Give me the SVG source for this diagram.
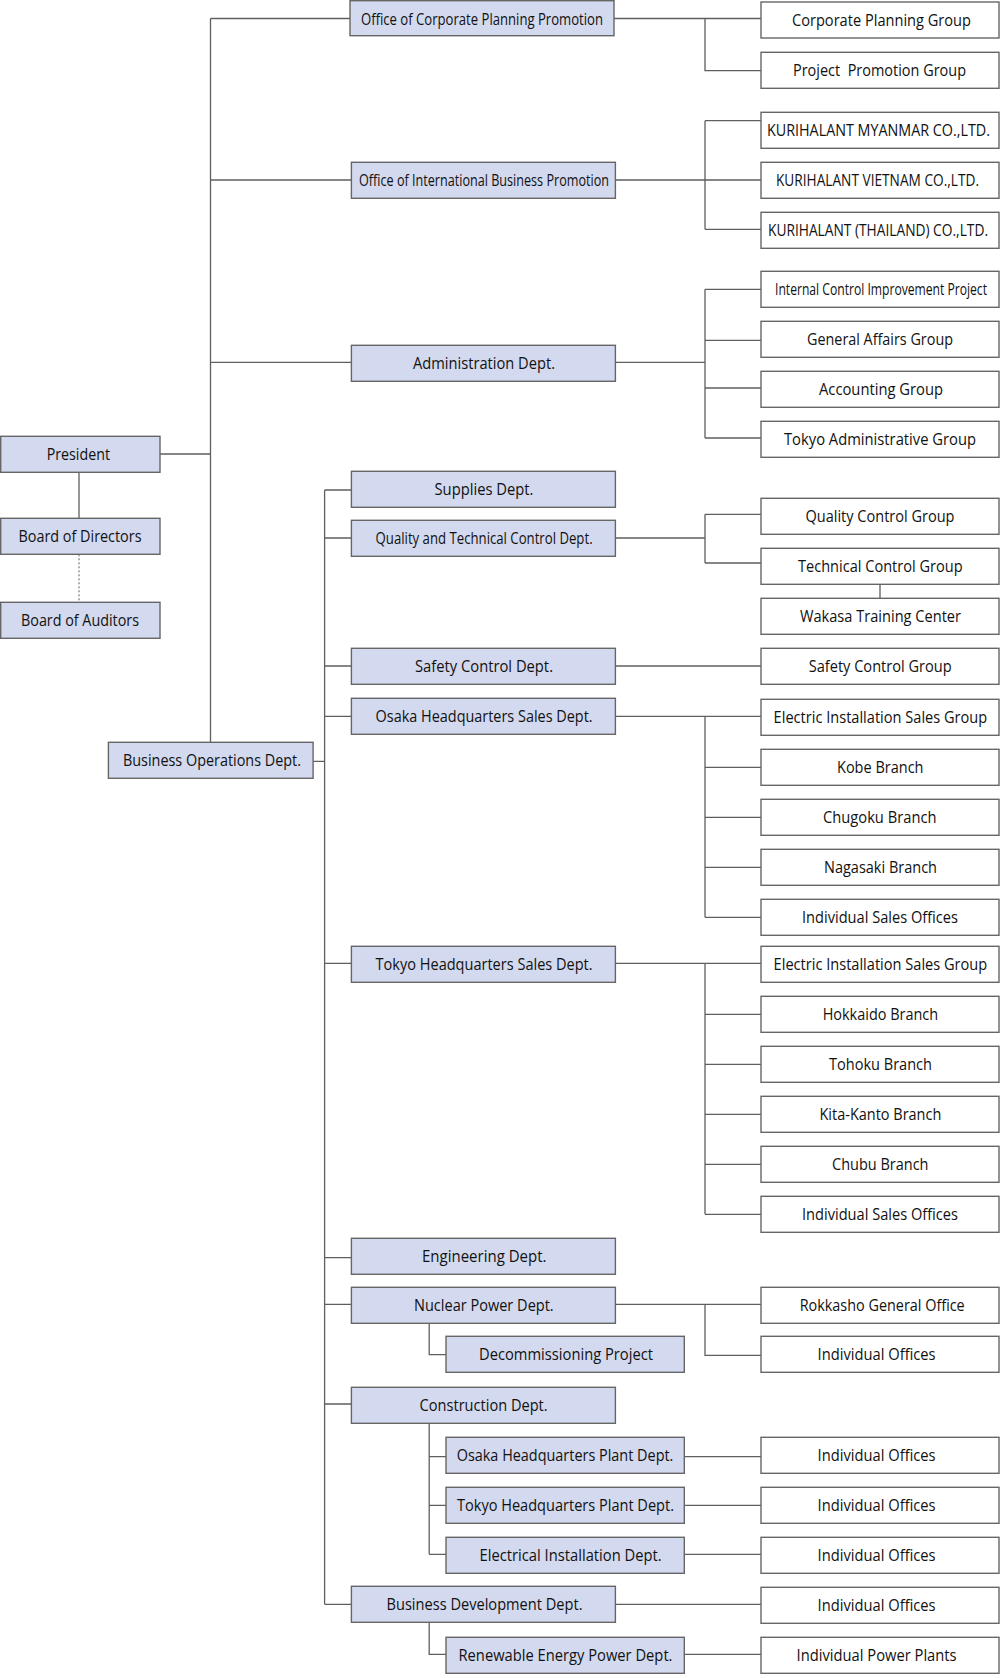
<svg xmlns="http://www.w3.org/2000/svg" width="1000" height="1678" viewBox="0 0 1000 1678">
<style>
.d{fill:#d3d9ee;stroke:#666;stroke-width:1.4}
.c{fill:#fff;stroke:#666;stroke-width:1.4}
.t{font-family:"Open Sans","Noto Sans","DejaVu Sans",sans-serif;font-size:15.5px;fill:#111;white-space:pre}
.ln{fill:none;stroke:#5f5f5f;stroke-width:1.3}
.dash{fill:none;stroke:#5f5f5f;stroke-width:1;stroke-dasharray:2 2}
</style>
<rect width="1000" height="1678" fill="#fff"/>
<g id="connectors">
<path class="ln" d="M210.5 18.5V742.3M210.5 18.5H350M210.5 180H351.4M210.5 362.3H351.4M160 454H210.5"/>
<path class="ln" d="M79 472.3V518.3"/>
<path class="dash" d="M79 554.3V602.3"/>
<path class="ln" d="M614 18.5H761M705 18.5V70.7H761"/>
<path class="ln" d="M615.4 180H761M705 120.7V229.3M705 120.7H761M705 229.3H761"/>
<path class="ln" d="M615.4 362.3H705M705 289.3V438M705 289.3H761M705 340.3H761M705 388H761M705 438H761"/>
<path class="ln" d="M313.1 761.3H324.6M324.6 490V1604.3M324.6 490H351.4M324.6 538H351.4M324.6 666H351.4M324.6 716.3H351.4M324.6 963.3H351.4M324.6 1257.7H351.4M324.6 1304.3H351.4M324.6 1404H351.4M324.6 1604.3H351.4"/>
<path class="ln" d="M615.4 538H705M705 514.3V563M705 514.3H761M705 563H761M880 584.3V598.3"/>
<path class="ln" d="M615.4 666H761"/>
<path class="ln" d="M615.4 716.3H761M705 716.3V917.3M705 767.3H761M705 817.3H761M705 867.3H761M705 917.3H761"/>
<path class="ln" d="M615.4 963.3H761M705 963.3V1214.3M705 1014.3H761M705 1064.3H761M705 1114.3H761M705 1164.3H761M705 1214.3H761"/>
<path class="ln" d="M615.4 1304.3H761M705 1304.3V1355.3H761"/>
<path class="ln" d="M429.2 1323.3V1354.7H446"/>
<path class="ln" d="M429.2 1423.3V1554.3M429.2 1456.7H446M429.2 1505.3H446M429.2 1554.3H446"/>
<path class="ln" d="M684.3 1456.7H761M684.3 1505.3H761M684.3 1554.3H761"/>
<path class="ln" d="M615.4 1604.3H761M429.2 1622.3V1654.3H446M684.3 1654.3H761"/>
</g>
<g id="president"><rect class="d" x="0.7" y="436.3" width="159.3" height="36"/><text class="t" x="46.7" y="460.3" textLength="63.3" lengthAdjust="spacingAndGlyphs">President</text></g>
<g id="board-directors"><rect class="d" x="0.7" y="518.3" width="159.3" height="36"/><text class="t" x="18.5" y="542.3" textLength="123" lengthAdjust="spacingAndGlyphs">Board of Directors</text></g>
<g id="board-auditors"><rect class="d" x="0.7" y="602.3" width="159.3" height="36"/><text class="t" x="21" y="626.3" textLength="118" lengthAdjust="spacingAndGlyphs">Board of Auditors</text></g>
<g id="business-operations"><rect class="d" x="108.4" y="742.3" width="204.7" height="36"/><text class="t" x="123" y="766.3" textLength="178" lengthAdjust="spacingAndGlyphs">Business Operations Dept.</text></g>

<g id="corporate-planning-office"><rect class="d" x="350" y="0.7" width="264" height="35"/><text class="t" x="361" y="24.5" textLength="242" lengthAdjust="spacingAndGlyphs">Office of Corporate Planning Promotion</text></g>
<g id="intl-business-office"><rect class="d" x="351.4" y="162.3" width="264" height="36"/><text class="t" x="359" y="186.3" textLength="250" lengthAdjust="spacingAndGlyphs">Office of International Business Promotion</text></g>
<g id="administration"><rect class="d" x="351.4" y="345.3" width="264" height="36"/><text class="t" x="413" y="369.3" textLength="142" lengthAdjust="spacingAndGlyphs">Administration Dept.</text></g>
<g id="supplies"><rect class="d" x="351.4" y="471.3" width="264" height="36"/><text class="t" x="434.5" y="495.3" textLength="99" lengthAdjust="spacingAndGlyphs">Supplies Dept.</text></g>
<g id="quality-technical"><rect class="d" x="351.4" y="520.3" width="264" height="36"/><text class="t" x="375.6" y="544.3" textLength="217" lengthAdjust="spacingAndGlyphs">Quality and Technical Control Dept.</text></g>
<g id="safety-control"><rect class="d" x="351.4" y="648.3" width="264" height="36"/><text class="t" x="415" y="672.3" textLength="138" lengthAdjust="spacingAndGlyphs">Safety Control Dept.</text></g>
<g id="osaka-sales"><rect class="d" x="351.4" y="698.3" width="264" height="36"/><text class="t" x="375.6" y="722.3" textLength="217" lengthAdjust="spacingAndGlyphs">Osaka Headquarters Sales Dept.</text></g>
<g id="tokyo-sales"><rect class="d" x="351.4" y="946.3" width="264" height="36"/><text class="t" x="375.6" y="970.3" textLength="217" lengthAdjust="spacingAndGlyphs">Tokyo Headquarters Sales Dept.</text></g>
<g id="engineering"><rect class="d" x="351.4" y="1238.3" width="264" height="36"/><text class="t" x="422" y="1262.3" textLength="124.5" lengthAdjust="spacingAndGlyphs">Engineering Dept.</text></g>
<g id="nuclear"><rect class="d" x="351.4" y="1287.3" width="264" height="36"/><text class="t" x="414" y="1311.3" textLength="139.7" lengthAdjust="spacingAndGlyphs">Nuclear Power Dept.</text></g>
<g id="construction"><rect class="d" x="351.4" y="1387.3" width="264" height="36"/><text class="t" x="419.6" y="1411.3" textLength="128" lengthAdjust="spacingAndGlyphs">Construction Dept.</text></g>
<g id="business-development"><rect class="d" x="351.4" y="1586.3" width="264" height="36"/><text class="t" x="386.5" y="1610.3" textLength="196" lengthAdjust="spacingAndGlyphs">Business Development Dept.</text></g>

<g id="decommissioning"><rect class="d" x="446" y="1336.3" width="238.3" height="36"/><text class="t" x="479" y="1360.3" textLength="174" lengthAdjust="spacingAndGlyphs">Decommissioning Project</text></g>
<g id="osaka-plant"><rect class="d" x="446" y="1437.3" width="238.3" height="36"/><text class="t" x="456.7" y="1461.3" textLength="216.7" lengthAdjust="spacingAndGlyphs">Osaka Headquarters Plant Dept.</text></g>
<g id="tokyo-plant"><rect class="d" x="446" y="1487.3" width="238.3" height="36"/><text class="t" x="457" y="1511.3" textLength="217" lengthAdjust="spacingAndGlyphs">Tokyo Headquarters Plant Dept.</text></g>
<g id="electrical-installation"><rect class="d" x="446" y="1537.3" width="238.3" height="36"/><text class="t" x="479.6" y="1561.3" textLength="182" lengthAdjust="spacingAndGlyphs">Electrical Installation Dept.</text></g>
<g id="renewable-energy"><rect class="d" x="446" y="1637.3" width="238.3" height="36"/><text class="t" x="458.5" y="1661.3" textLength="214" lengthAdjust="spacingAndGlyphs">Renewable Energy Power Dept.</text></g>

<g id="corporate-planning-group"><rect class="c" x="761" y="2" width="238" height="36"/><text class="t" x="792" y="26" textLength="179" lengthAdjust="spacingAndGlyphs">Corporate Planning Group</text></g>
<g id="project-promotion-group"><rect class="c" x="761" y="52.3" width="238" height="36"/><text class="t" x="793" y="76.3" textLength="173" lengthAdjust="spacingAndGlyphs">Project  Promotion Group</text></g>
<g id="kurihalant-myanmar"><rect class="c" x="761" y="112.3" width="238" height="36"/><text class="t" transform="translate(767 136.3) scale(0.8 1)" x="0" y="0" textLength="278.75" lengthAdjust="spacingAndGlyphs">KURIHALANT MYANMAR CO.,LTD.</text></g>
<g id="kurihalant-vietnam"><rect class="c" x="761" y="162.3" width="238" height="36"/><text class="t" transform="translate(776 186.3) scale(0.8 1)" x="0" y="0" textLength="253.75" lengthAdjust="spacingAndGlyphs">KURIHALANT VIETNAM CO.,LTD.</text></g>
<g id="kurihalant-thailand"><rect class="c" x="761" y="212.3" width="238" height="36"/><text class="t" transform="translate(768 236.3) scale(0.8 1)" x="0" y="0" textLength="275" lengthAdjust="spacingAndGlyphs">KURIHALANT (THAILAND) CO.,LTD.</text></g>
<g id="internal-control"><rect class="c" x="761" y="271.3" width="238" height="36"/><text class="t" transform="translate(775 295.3) scale(0.8 1)" x="0" y="0" textLength="265" lengthAdjust="spacingAndGlyphs">Internal Control Improvement Project</text></g>
<g id="general-affairs"><rect class="c" x="761" y="321.3" width="238" height="36"/><text class="t" x="807" y="345.3" textLength="146" lengthAdjust="spacingAndGlyphs">General Affairs Group</text></g>
<g id="accounting"><rect class="c" x="761" y="371.3" width="238" height="36"/><text class="t" x="819" y="395.3" textLength="124" lengthAdjust="spacingAndGlyphs">Accounting Group</text></g>
<g id="tokyo-administrative"><rect class="c" x="761" y="421.3" width="238" height="36"/><text class="t" x="784" y="445.3" textLength="192" lengthAdjust="spacingAndGlyphs">Tokyo Administrative Group</text></g>
<g id="quality-control-group"><rect class="c" x="761" y="498.3" width="238" height="36"/><text class="t" x="805.5" y="522.3" textLength="149" lengthAdjust="spacingAndGlyphs">Quality Control Group</text></g>
<g id="technical-control-group"><rect class="c" x="761" y="548.3" width="238" height="36"/><text class="t" x="798" y="572.3" textLength="164.6" lengthAdjust="spacingAndGlyphs">Technical Control Group</text></g>
<g id="wakasa"><rect class="c" x="761" y="598.3" width="238" height="36"/><text class="t" x="800" y="622.3" textLength="161" lengthAdjust="spacingAndGlyphs">Wakasa Training Center</text></g>
<g id="safety-control-group"><rect class="c" x="761" y="648.3" width="238" height="36"/><text class="t" x="808.7" y="672.3" textLength="143" lengthAdjust="spacingAndGlyphs">Safety Control Group</text></g>
<g id="osaka-electric-sales"><rect class="c" x="761" y="699.3" width="238" height="36"/><text class="t" x="773.6" y="723.3" textLength="213.6" lengthAdjust="spacingAndGlyphs">Electric Installation Sales Group</text></g>
<g id="kobe"><rect class="c" x="761" y="749.3" width="238" height="36"/><text class="t" x="837" y="773.3" textLength="86.5" lengthAdjust="spacingAndGlyphs">Kobe Branch</text></g>
<g id="chugoku"><rect class="c" x="761" y="799.3" width="238" height="36"/><text class="t" x="823" y="823.3" textLength="113.5" lengthAdjust="spacingAndGlyphs">Chugoku Branch</text></g>
<g id="nagasaki"><rect class="c" x="761" y="849.3" width="238" height="36"/><text class="t" x="824" y="873.3" textLength="113" lengthAdjust="spacingAndGlyphs">Nagasaki Branch</text></g>
<g id="osaka-sales-offices"><rect class="c" x="761" y="899.3" width="238" height="36"/><text class="t" x="802" y="923.3" textLength="156" lengthAdjust="spacingAndGlyphs">Individual Sales Offices</text></g>
<g id="tokyo-electric-sales"><rect class="c" x="761" y="946.3" width="238" height="36"/><text class="t" x="773.6" y="970.3" textLength="213.6" lengthAdjust="spacingAndGlyphs">Electric Installation Sales Group</text></g>
<g id="hokkaido"><rect class="c" x="761" y="996.3" width="238" height="36"/><text class="t" x="822.7" y="1020.3" textLength="115.4" lengthAdjust="spacingAndGlyphs">Hokkaido Branch</text></g>
<g id="tohoku"><rect class="c" x="761" y="1046.3" width="238" height="36"/><text class="t" x="829" y="1070.3" textLength="103" lengthAdjust="spacingAndGlyphs">Tohoku Branch</text></g>
<g id="kita-kanto"><rect class="c" x="761" y="1096.3" width="238" height="36"/><text class="t" x="819.5" y="1120.3" textLength="121.8" lengthAdjust="spacingAndGlyphs">Kita-Kanto Branch</text></g>
<g id="chubu"><rect class="c" x="761" y="1146.3" width="238" height="36"/><text class="t" x="832" y="1170.3" textLength="96.5" lengthAdjust="spacingAndGlyphs">Chubu Branch</text></g>
<g id="tokyo-sales-offices"><rect class="c" x="761" y="1196.3" width="238" height="36"/><text class="t" x="802" y="1220.3" textLength="156" lengthAdjust="spacingAndGlyphs">Individual Sales Offices</text></g>
<g id="rokkasho"><rect class="c" x="761" y="1287.3" width="238" height="36"/><text class="t" x="799.7" y="1311.3" textLength="165" lengthAdjust="spacingAndGlyphs">Rokkasho General Office</text></g>
<g id="nuclear-offices"><rect class="c" x="761" y="1336.3" width="238" height="36"/><text class="t" x="817.6" y="1360.3" textLength="118" lengthAdjust="spacingAndGlyphs">Individual Offices</text></g>
<g id="osaka-plant-offices"><rect class="c" x="761" y="1437.3" width="238" height="36"/><text class="t" x="817.6" y="1461.3" textLength="118" lengthAdjust="spacingAndGlyphs">Individual Offices</text></g>
<g id="tokyo-plant-offices"><rect class="c" x="761" y="1487.3" width="238" height="36"/><text class="t" x="817.6" y="1511.3" textLength="118" lengthAdjust="spacingAndGlyphs">Individual Offices</text></g>
<g id="electrical-offices"><rect class="c" x="761" y="1537.3" width="238" height="36"/><text class="t" x="817.6" y="1561.3" textLength="118" lengthAdjust="spacingAndGlyphs">Individual Offices</text></g>
<g id="business-dev-offices"><rect class="c" x="761" y="1587.3" width="238" height="36"/><text class="t" x="817.6" y="1611.3" textLength="118" lengthAdjust="spacingAndGlyphs">Individual Offices</text></g>
<g id="power-plants"><rect class="c" x="761" y="1637.3" width="238" height="36"/><text class="t" x="796.6" y="1661.3" textLength="160" lengthAdjust="spacingAndGlyphs">Individual Power Plants</text></g>
</svg>
